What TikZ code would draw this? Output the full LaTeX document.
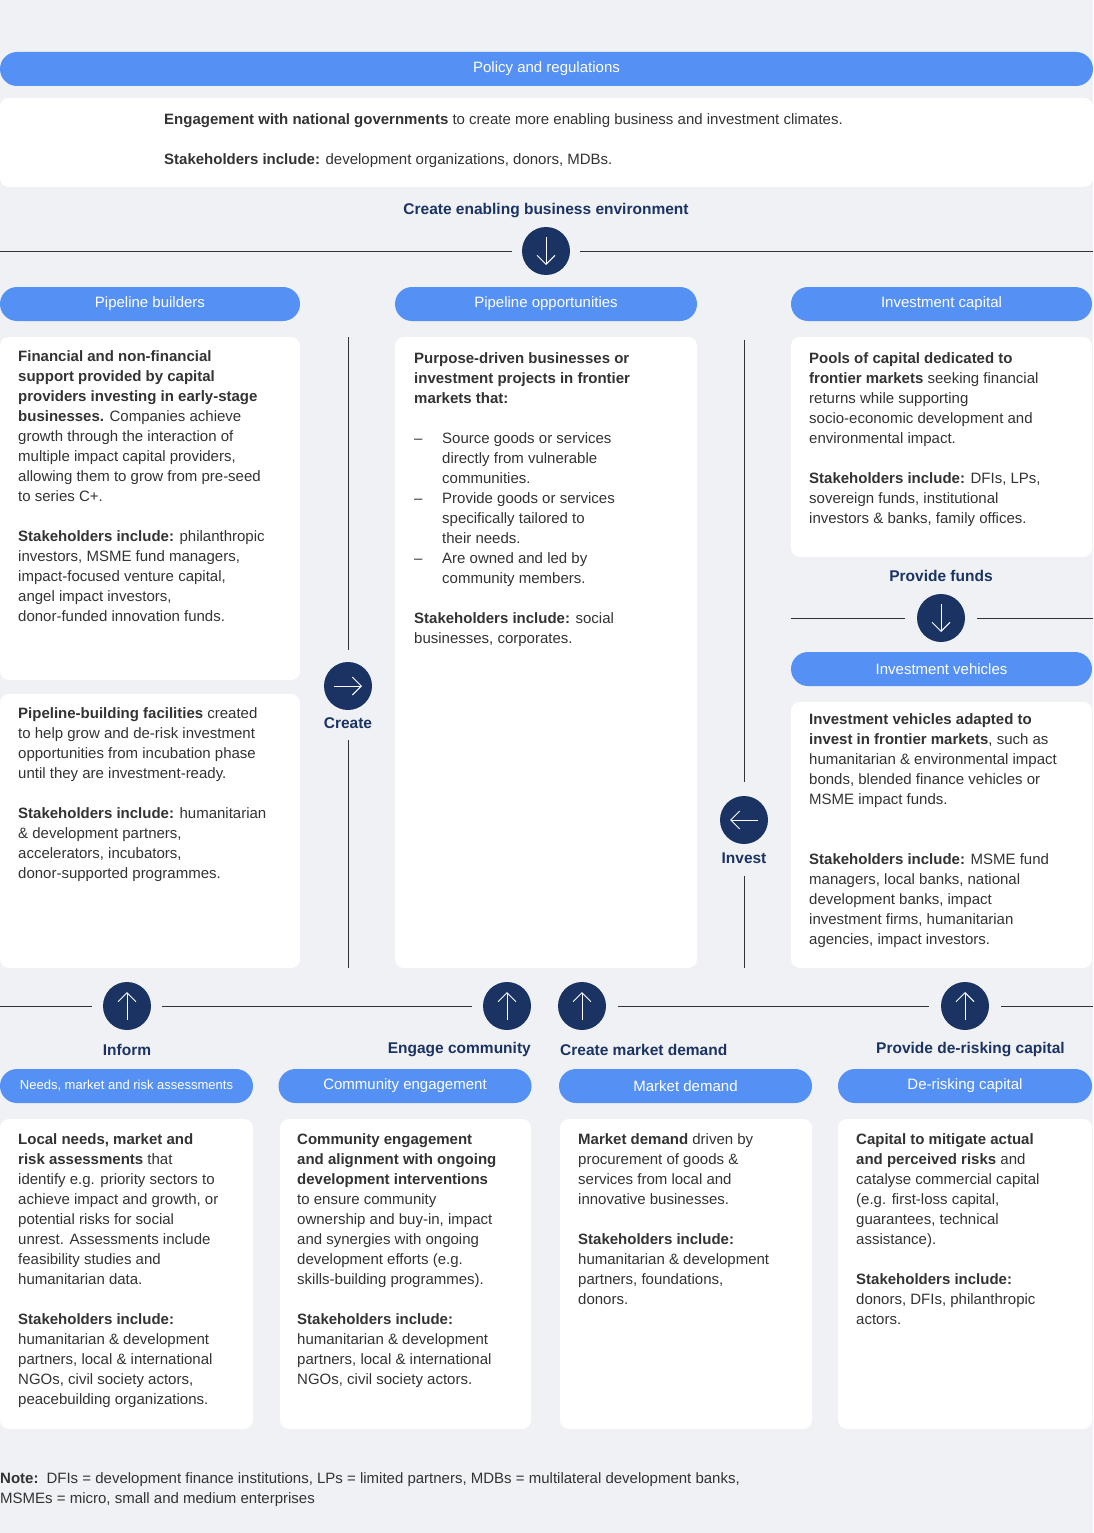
\documentclass[tikz,border=0pt]{standalone}
\usepackage{fontspec}
\setmainfont{Liberation Sans}
\usetikzlibrary{arrows.meta}
\definecolor{bgc}{HTML}{EFF1F5}
\definecolor{pillc}{HTML}{5591F5}
\definecolor{navy}{HTML}{1B3363}
\definecolor{txtc}{HTML}{333333}
\newcommand{\hl}[1]{\textbf{#1}}
\newcommand{\bul}{\makebox[28pt][l]{--}}
\newcommand{\ind}{\hspace*{28pt}}
\tikzset{
  pill/.style={fill=pillc, rounded corners=17pt, text=white, minimum height=34pt, inner sep=0pt, font=\fontsize{15}{18}\selectfont},
  card/.style={fill=white, rounded corners=9pt, inner sep=0pt},
  circ/.style={circle, fill=navy, minimum size=48pt, inner sep=0pt},
  arrw/.style={white, line width=0.9pt, -{Straight Barb[length=9pt,width=18pt]}},
  lab/.style={text=navy, font=\bfseries\fontsize{15.5}{18}\selectfont, inner sep=0pt},
  txt/.style={anchor=north west, align=left, inner sep=0pt, text=txtc, font=\fontsize{15}{20}\selectfont},
  conn/.style={draw=txtc, line width=0.8pt},
}
\begin{document}
\begin{tikzpicture}[x=1pt,y=-1pt]
\fill[bgc] (0,0) rectangle (1093,1533);
\useasboundingbox (0,0) rectangle (1093,1533);
% policy
\node[pill, minimum width=1093pt] (policy) at (546.5,69) {Policy and regulations};
\node[card, minimum width=1093pt, minimum height=89pt] (engage) at (546.5,142.5) {};
\node[txt] (engtxt) at (164,113) {\hl{Engagement with national governments} to create more enabling business and investment climates.\\[20pt]\hl{Stakeholders include:} development organizations, donors, MDBs.};
\node[lab] (envlab) at (546,211) {Create enabling business environment};
\node[circ] (envc) at (546,251) {};
\draw[arrw] ([yshift=14pt]envc.center) -- ([yshift=-14pt]envc.center);
\coordinate (e1) at (0,251); \coordinate (e2) at (512,251);
\coordinate (e3) at (580,251); \coordinate (e4) at (1093,251);
\draw[conn] (e1) -- (e2) (e3) -- (e4);
% middle row pills
\node[pill, minimum width=300pt] (pbuild) at (150,304) {Pipeline builders};
\node[pill, minimum width=302pt] (popp) at (546,304) {Pipeline opportunities};
\node[pill, minimum width=301pt] (icap) at (941.5,304) {Investment capital};
% cards
\node[card, minimum width=300pt, minimum height=343pt] (pb1) at (150,508.5) {};
\node[card, minimum width=300pt, minimum height=274pt] (pb2) at (150,831) {};
\node[card, minimum width=302pt, minimum height=631pt] (po) at (546,652.5) {};
\node[card, minimum width=301pt, minimum height=220pt] (ic) at (941.5,447) {};
\node[card, minimum width=301pt, minimum height=266pt] (iv) at (941.5,835) {};
\node[txt] at (18,350) {\hl{Financial and non-financial}\\\hl{support provided by capital}\\\hl{providers investing in early-stage}\\\hl{businesses.} Companies achieve\\growth through the interaction of\\multiple impact capital providers,\\allowing them to grow from pre-seed\\to series C+.\\[20pt]\hl{Stakeholders include:} philanthropic\\investors, MSME fund managers,\\impact-focused venture capital,\\angel impact investors,\\donor-funded innovation funds.};
\node[txt] at (18,707) {\hl{Pipeline-building facilities} created\\to help grow and de-risk investment\\opportunities from incubation phase\\until they are investment-ready.\\[20pt]\hl{Stakeholders include:} humanitarian\\\& development partners,\\accelerators, incubators,\\donor-supported programmes.};
\node[txt] at (414,352) {\hl{Purpose-driven businesses or}\\\hl{investment projects in frontier}\\\hl{markets that:}\\[20pt]\bul Source goods or services\\\ind directly from vulnerable\\\ind communities.\\\bul Provide goods or services\\\ind specifically tailored to\\\ind their needs.\\\bul Are owned and led by\\\ind community members.\\[20pt]\hl{Stakeholders include:} social\\businesses, corporates.};
\node[txt] at (809,352) {\hl{Pools of capital dedicated to}\\\hl{frontier markets} seeking financial\\returns while supporting\\socio-economic development and\\environmental impact.\\[20pt]\hl{Stakeholders include:} DFIs, LPs,\\sovereign funds, institutional\\investors \& banks, family offices.};
\node[txt] at (809,713) {\hl{Investment vehicles adapted to}\\\hl{invest in frontier markets}, such as\\humanitarian \& environmental impact\\bonds, blended finance vehicles or\\MSME impact funds.\\[40pt]\hl{Stakeholders include:} MSME fund\\managers, local banks, national\\development banks, impact\\investment firms, humanitarian\\agencies, impact investors.};
% create
\node[circ] (crc) at (348,686) {};
\draw[arrw] ([xshift=-14pt]crc.center) -- ([xshift=14pt]crc.center);
\node[lab] (crlab) at (348,723) {Create};
\coordinate (c1) at (348,337); \coordinate (c2) at (348,650);
\coordinate (c3) at (348,740); \coordinate (c4) at (348,968);
\draw[conn] (c1) -- (c2) (c3) -- (c4);
% invest
\node[circ] (inc) at (744,820) {};
\draw[arrw] ([xshift=14pt]inc.center) -- ([xshift=-14pt]inc.center);
\node[lab] (inlab) at (744,858) {Invest};
\coordinate (i1) at (744,340); \coordinate (i2) at (744,782);
\coordinate (i3) at (744,876); \coordinate (i4) at (744,968);
\draw[conn] (i1) -- (i2) (i3) -- (i4);
% provide funds
\node[lab] (pflab) at (941,576) {Provide funds};
\node[circ] (pfc) at (941,618) {};
\draw[arrw] ([yshift=14pt]pfc.center) -- ([yshift=-14pt]pfc.center);
\coordinate (f1) at (791,618); \coordinate (f2) at (905,618);
\coordinate (f3) at (977,618); \coordinate (f4) at (1093,618);
\draw[conn] (f1) -- (f2) (f3) -- (f4);
\node[pill, minimum width=301pt] (ivp) at (941.5,669) {Investment vehicles};
% bottom row circles
\foreach \nm/\xx in {infc/127, engc/507, mktc/582, drc/965}{
  \node[circ] (\nm) at (\xx,1006) {};
  \draw[arrw] ([yshift=-14pt]\nm.center) -- ([yshift=14pt]\nm.center);
}
\coordinate (b1) at (0,1006); \coordinate (b2) at (92,1006);
\coordinate (b3) at (162,1006); \coordinate (b4) at (472,1006);
\coordinate (b5) at (618,1006); \coordinate (b6) at (929,1006);
\coordinate (b7) at (1001,1006); \coordinate (b8) at (1093,1006);
\draw[conn] (b1) -- (b2) (b3) -- (b4) (b5) -- (b6) (b7) -- (b8);
\node[lab] (inflab) at (127,1050) {Inform};
\node[lab, anchor=east] (englab) at (531,1050) {Engage community};
\node[lab, anchor=west] (mktlab) at (560,1050) {Create market demand};
\node[lab, anchor=east] (drlab) at (1065,1050) {Provide de-risking capital};
\node[pill, minimum width=253pt, font=\fontsize{13}{16}\selectfont] (needp) at (126.5,1086) {Needs, market and risk assessments};
\node[pill, minimum width=253pt] (commp) at (405,1086) {Community engagement};
\node[pill, minimum width=253pt] (mktp) at (685.5,1086) {Market demand};
\node[pill, minimum width=254pt] (drp) at (965,1086) {De-risking capital};
\node[card, minimum width=253pt, minimum height=310pt] (needb) at (126.5,1274) {};
\node[card, minimum width=251pt, minimum height=310pt] (commb) at (405.5,1274) {};
\node[card, minimum width=252pt, minimum height=310pt] (mktb) at (686,1274) {};
\node[card, minimum width=254pt, minimum height=310pt] (drb) at (965,1274) {};
\node[txt] at (18,1133) {\hl{Local needs, market and}\\\hl{risk assessments} that\\identify e.g. priority sectors to\\achieve impact and growth, or\\potential risks for social\\unrest. Assessments include\\feasibility studies and\\humanitarian data.\\[20pt]\hl{Stakeholders include:}\\humanitarian \& development\\partners, local \& international\\NGOs, civil society actors,\\peacebuilding organizations.};
\node[txt] at (297,1133) {\hl{Community engagement}\\\hl{and alignment with ongoing}\\\hl{development interventions}\\to ensure community\\ownership and buy-in, impact\\and synergies with ongoing\\development efforts (e.g.\\skills-building programmes).\\[20pt]\hl{Stakeholders include:}\\humanitarian \& development\\partners, local \& international\\NGOs, civil society actors.};
\node[txt] at (578,1133) {\hl{Market demand} driven by\\procurement of goods \&\\services from local and\\innovative businesses.\\[20pt]\hl{Stakeholders include:}\\humanitarian \& development\\partners, foundations,\\donors.};
\node[txt] at (856,1133) {\hl{Capital to mitigate actual}\\\hl{and perceived risks} and\\catalyse commercial capital\\(e.g. first-loss capital,\\guarantees, technical\\assistance).\\[20pt]\hl{Stakeholders include:}\\donors, DFIs, philanthropic\\actors.};
% note
\node[txt] (note) at (0,1472) {\hl{Note:} \,DFIs = development finance institutions, LPs = limited partners, MDBs = multilateral development banks,\\MSMEs = micro, small and medium enterprises};
\end{tikzpicture}
\end{document}
